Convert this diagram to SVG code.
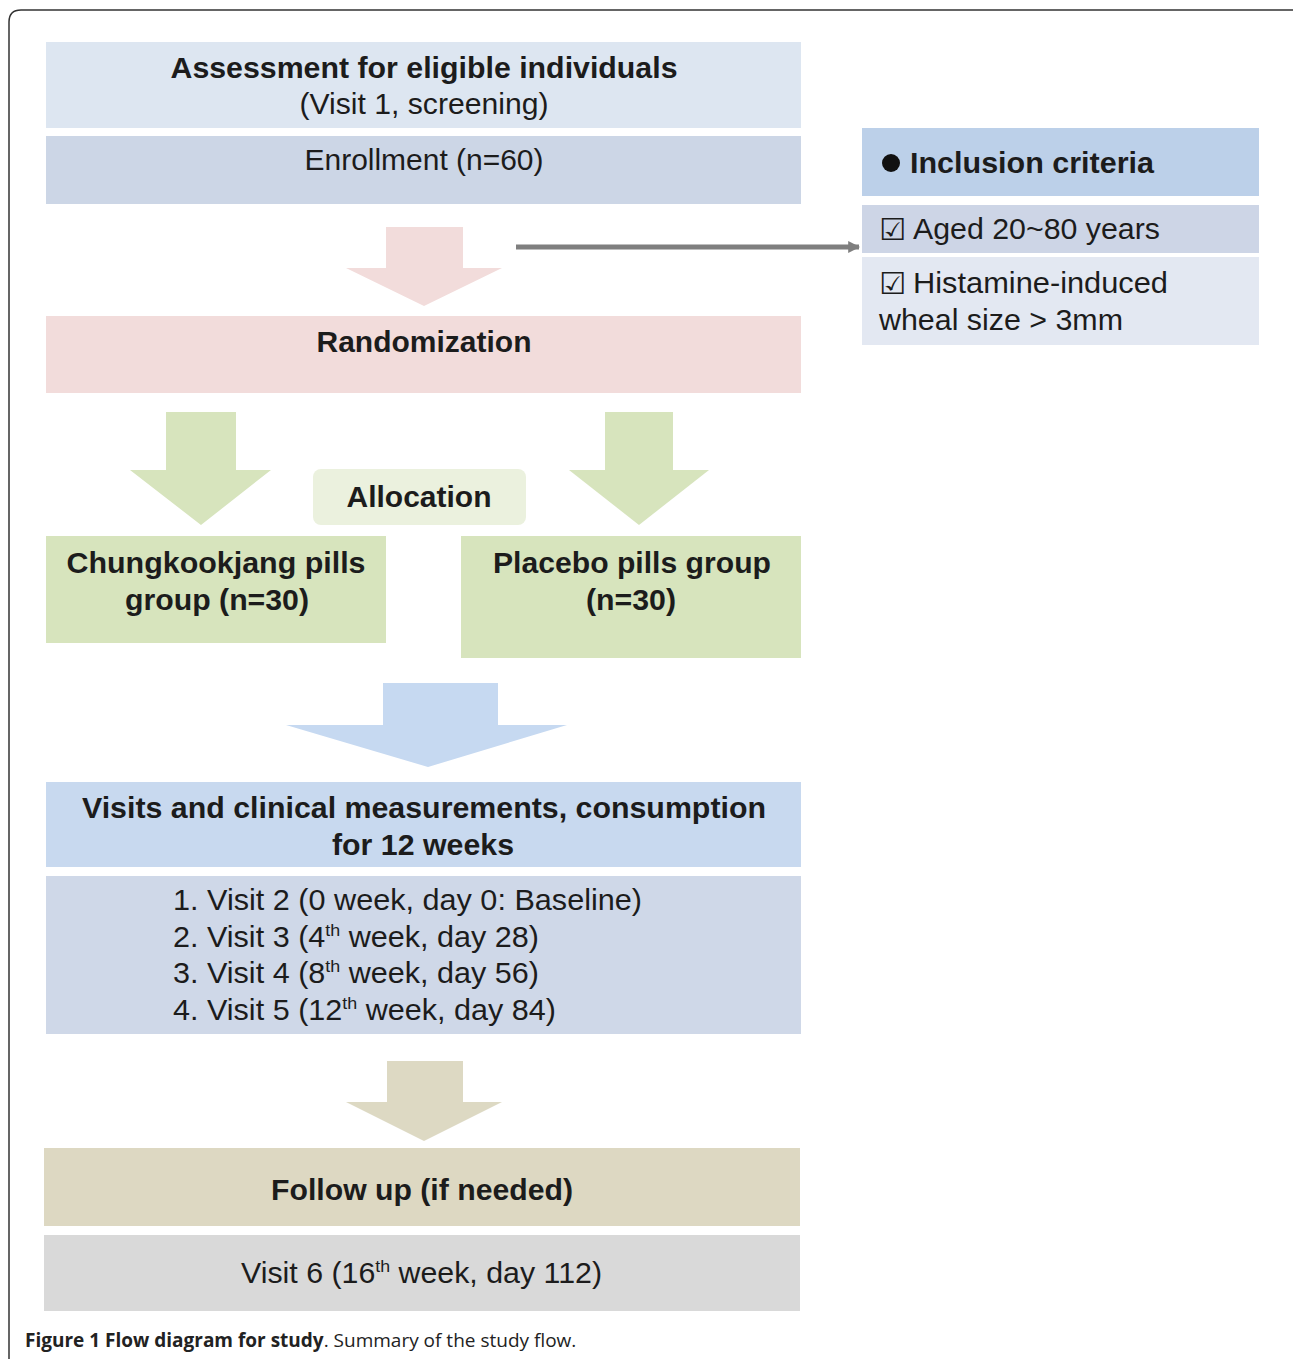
<svg xmlns="http://www.w3.org/2000/svg" width="1293" height="1359" viewBox="0 0 1293 1359">
<defs>
<style>
.t{font-family:"Liberation Sans",Arial,sans-serif;fill:#1c1c1c;}
.b{font-weight:bold;}
.cb{font-family:"DejaVu Sans",sans-serif;font-size:30px;}
.cap{font-family:"Open Sans","Liberation Sans",sans-serif;fill:#222;font-size:19px;}
</style>
<marker id="ah" viewBox="0 0 10 10" refX="9" refY="5" markerWidth="2.4" markerHeight="2.4" orient="auto"><path d="M0,0 L10,5 L0,10 z" fill="#7f7f7f"/></marker>
</defs>
<rect x="0" y="0" width="1293" height="1359" fill="#fff"/>
<path d="M9,1370 L9,22 Q9,10 21,10 L1300,10" fill="none" stroke="#333" stroke-width="1.5"/>

<g id="connectors">
<path d="M386,227 H463 V268 H502 L424,306 L346,268 H386 Z" fill="#f2dcdb"/>
<path d="M166,412 H236 V470 H271 L201,525 L130,470 H166 Z" fill="#d7e4bd"/>
<path d="M605,412 H673 V470 H709 L639,525 L569,470 H605 Z" fill="#d7e4bd"/>
<path d="M383,683 H498 V725 H567 L428,767 L286,725 H383 Z" fill="#c6d9f1"/>
<path d="M387,1061 H463 V1102 H502 L424,1141 L346,1102 H387 Z" fill="#ddd9c3"/>
<line x1="516" y1="247" x2="859" y2="247" stroke="#7f7f7f" stroke-width="5" marker-end="url(#ah)"/>
</g>

<g id="assessment">
<rect x="46" y="42" width="755" height="86" fill="#dde6f1"/>
<text class="t b" x="424" y="78" font-size="29" text-anchor="middle" textLength="507" lengthAdjust="spacingAndGlyphs">Assessment for eligible individuals</text>
<text class="t" x="424" y="114" font-size="29" text-anchor="middle" textLength="249" lengthAdjust="spacingAndGlyphs">(Visit 1, screening)</text>
</g>
<g id="enrollment">
<rect x="46" y="136" width="755" height="68" fill="#ccd6e6"/>
<text class="t" x="424" y="170" font-size="29" text-anchor="middle" textLength="239" lengthAdjust="spacingAndGlyphs">Enrollment (n=60)</text>
</g>
<g id="randomization">
<rect x="46" y="316" width="755" height="77" fill="#f2dcdb"/>
<text class="t b" x="424" y="352" font-size="29" text-anchor="middle" textLength="215" lengthAdjust="spacingAndGlyphs">Randomization</text>
</g>
<g id="allocation">
<rect x="313" y="469" width="213" height="56" rx="8" fill="#ebf1de"/>
<text class="t b" x="419" y="507" font-size="29" text-anchor="middle" textLength="145" lengthAdjust="spacingAndGlyphs">Allocation</text>
</g>
<g id="chungkookjang">
<rect x="46" y="536" width="340" height="107" fill="#d7e4bd"/>
<text class="t b" x="216" y="573" font-size="29" text-anchor="middle" textLength="299" lengthAdjust="spacingAndGlyphs">Chungkookjang pills</text>
<text class="t b" x="217" y="610" font-size="29" text-anchor="middle" textLength="184" lengthAdjust="spacingAndGlyphs">group (n=30)</text>
</g>
<g id="placebo">
<rect x="461" y="536" width="340" height="122" fill="#d7e4bd"/>
<text class="t b" x="632" y="573" font-size="29" text-anchor="middle" textLength="278" lengthAdjust="spacingAndGlyphs">Placebo pills group</text>
<text class="t b" x="631" y="610" font-size="29" text-anchor="middle" textLength="90" lengthAdjust="spacingAndGlyphs">(n=30)</text>
</g>
<g id="visits-header">
<rect x="46" y="782" width="755" height="85" fill="#c8d9ef"/>
<text class="t b" x="424" y="818" font-size="29" text-anchor="middle" textLength="684" lengthAdjust="spacingAndGlyphs">Visits and clinical measurements, consumption</text>
<text class="t b" x="423" y="855" font-size="29" text-anchor="middle" textLength="182" lengthAdjust="spacingAndGlyphs">for 12 weeks</text>
</g>
<g id="visits-list">
<rect x="46" y="876" width="755" height="158" fill="#cfd8e8"/>
<text class="t" x="173" y="910" font-size="29" textLength="469" lengthAdjust="spacingAndGlyphs">1. Visit 2 (0 week, day 0: Baseline)</text>
<text class="t" x="173" y="947" font-size="29" textLength="366" lengthAdjust="spacingAndGlyphs">2. Visit 3 (4<tspan font-size="17" dy="-11">th</tspan><tspan dy="11"> week, day 28)</tspan></text>
<text class="t" x="173" y="983" font-size="29" textLength="366" lengthAdjust="spacingAndGlyphs">3. Visit 4 (8<tspan font-size="17" dy="-11">th</tspan><tspan dy="11"> week, day 56)</tspan></text>
<text class="t" x="173" y="1020" font-size="29" textLength="383" lengthAdjust="spacingAndGlyphs">4. Visit 5 (12<tspan font-size="17" dy="-11">th</tspan><tspan dy="11"> week, day 84)</tspan></text>
</g>
<g id="follow-up">
<rect x="44" y="1148" width="756" height="78" fill="#ddd8c2"/>
<text class="t b" x="422" y="1200" font-size="29" text-anchor="middle" textLength="302" lengthAdjust="spacingAndGlyphs">Follow up (if needed)</text>
</g>
<g id="visit6">
<rect x="44" y="1235" width="756" height="76" fill="#d9d9d9"/>
<text class="t" x="241" y="1283" font-size="29" textLength="361" lengthAdjust="spacingAndGlyphs">Visit 6 (16<tspan font-size="17" dy="-11">th</tspan><tspan dy="11"> week, day 112)</tspan></text>
</g>
<g id="inclusion">
<rect x="862" y="128" width="397" height="68" fill="#bcd0e9"/>
<circle cx="891" cy="163" r="9" fill="#111"/>
<text class="t b" x="910" y="173" font-size="29" textLength="244" lengthAdjust="spacingAndGlyphs">Inclusion criteria</text>
</g>
<g id="aged">
<rect x="862" y="205" width="397" height="48" fill="#cdd5e6"/>
<text class="t cb" x="879" y="240">☑</text>
<text class="t" x="913" y="239" font-size="29" textLength="247" lengthAdjust="spacingAndGlyphs">Aged 20~80 years</text>
</g>
<g id="histamine">
<rect x="862" y="257" width="397" height="88" fill="#e3e8f2"/>
<text class="t cb" x="879" y="294">☑</text>
<text class="t" x="913" y="293" font-size="29" textLength="255" lengthAdjust="spacingAndGlyphs">Histamine-induced</text>
<text class="t" x="879" y="330" font-size="29" textLength="244" lengthAdjust="spacingAndGlyphs">wheal size &gt; 3mm</text>
</g>
<text class="cap" x="25" y="1347"><tspan font-weight="bold">Figure 1 Flow diagram for study</tspan>. Summary of the study flow.</text>
</svg>
